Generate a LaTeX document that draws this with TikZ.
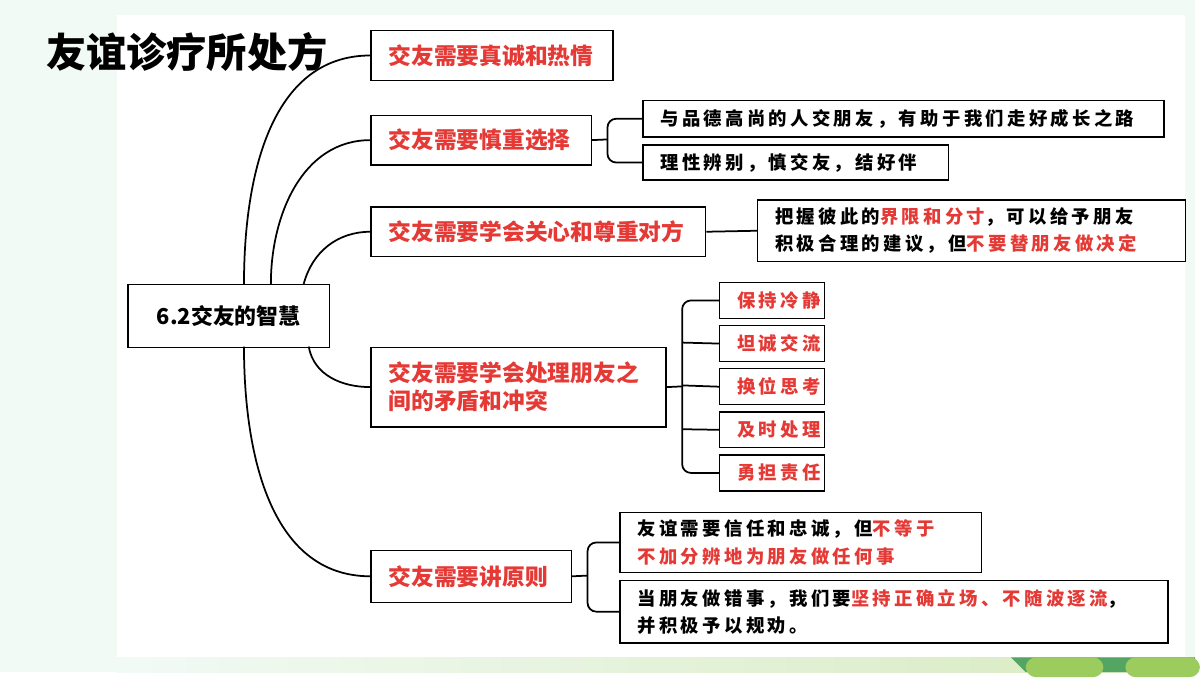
\documentclass[tikz,border=0pt]{standalone}
\usepackage{fontspec}
\setmainfont{Noto Sans CJK SC}
\usetikzlibrary{positioning, calc}
\definecolor{mapred}{HTML}{E53935}
\definecolor{mapmint}{HTML}{F2FAF5}
\definecolor{mapgreen}{HTML}{9CCB5E}
\definecolor{mapdark}{HTML}{55A562}
\newcommand{\hl}[1]{\textcolor{mapred}{#1}}

\begin{document}
\begin{tikzpicture}[x=0.02cm, y=-0.02cm,
    branch/.style={
        draw, line width=0.8pt, fill=white,
        anchor=north west, inner xsep=10pt,
        font=\fontsize{13}{16}\selectfont\bfseries,
        text=mapred, align=left
    },
    leaf/.style={
        draw, line width=0.8pt, fill=white,
        anchor=north west, inner xsep=10pt,
        font=\fontsize{10.5}{15.5}\selectfont\bfseries\addfontfeature{LetterSpace=18},
        align=left
    },
    wd/.style={text width=#1*0.02cm-20pt},
    ht/.style={minimum height=#1*0.02cm},
    link/.style={line width=1pt},
    bracket/.style={line width=1pt, rounded corners=5pt}
]

% Background
\fill[mapmint] (0,0) rectangle (1200,675);
\fill[white] (117,15) rectangle (1190,660);
\fill[left color=mapmint, right color=mapgreen!40] (117,660) rectangle (1200,675);
\fill[mapdark] (1015,660) -- (1030,675) -- (1200,675) -- (1200,660) -- cycle;
\fill[mapgreen, rounded corners=6pt] (1030,660) rectangle (1108,680);
\fill[mapgreen, rounded corners=6pt] (1130,660) rectangle (1205,680);
\useasboundingbox (0,0) rectangle (1200,675);

% Title
\node[font=\fontsize{23}{26}\selectfont\bfseries, anchor=west] (title) at (40,52) {友谊诊疗所处方};

% Root
\node[draw, line width=0.8pt, minimum width=202*0.02cm, minimum height=63*0.02cm,
      anchor=north west, font=\fontsize{12.5}{15}\selectfont\bfseries] (root) at (128,285) {6.2交友的智慧};

% Branches
\node[branch, wd=243, ht=50] (sincere) at (372,30) {交友需要真诚和热情};
\node[branch, wd=221, ht=50] (choose) at (372,115) {交友需要慎重选择};
\node[branch, wd=336, ht=50] (respect) at (372,207) {交友需要学会关心和尊重对方};
\node[branch, wd=296, ht=80] (conflict) at (372,348) {交友需要学会处理朋友之\\间的矛盾和冲突};
\node[branch, wd=201, ht=52] (principle) at (372,552) {交友需要讲原则};

% Leaves
\node[leaf, wd=523, ht=37] (noble) at (645,100) {与品德高尚的人交朋友，有助于我们走好成长之路};
\node[leaf, wd=307, ht=35] (rational) at (645,145) {理性辨别，慎交友，结好伴};
\node[leaf, wd=430, ht=62] (limit) at (760,200) {把握彼此的\hl{界限和分寸}，可以给予朋友\\积极合理的建议，但\hl{不要替朋友做决定}};
\foreach \lbl/\n [count=\i] in {保持冷静/calm, 坦诚交流/honest, 换位思考/empathy, 及时处理/prompt, 勇担责任/duty}
    \node[leaf, text=mapred, wd=105, ht=36] (\n) at ({722},{283+43.3*(\i-1)}) {\lbl};
\node[leaf, wd=363, ht=60] (trust) at (622,514) {友谊需要信任和忠诚，但\hl{不等于}\\\hl{不加分辨地为朋友做任何事}};
\node[leaf, wd=550, ht=63] (correct) at (622,582) {当朋友做错事，我们要\hl{坚持正确立场、不随波逐流}，\\并积极予以规劝。};

% Curves from root
\draw[link] (245,285) to[out=90, in=180] (sincere.west);
\draw[link] (272,285) to[out=90, in=180] (choose.west);
\draw[link] (305,285) to[out=75, in=180] (respect.west);
\draw[link] (310,348) to[out=-80, in=180] (conflict.west);
\draw[link] (245,348) to[out=-90, in=180] (principle.west);

% Brackets
\draw[link] (choose.east) -- (610,140);
\draw[bracket] (noble.west) -| (610,140) |- (rational.west);
\draw[link] (respect.east) -- (limit.west);
\draw[link] (conflict.east) -- (685,388);
\draw[bracket] (calm.west) -| (685,388) |- (duty.west);
\draw[link] (honest.west) -- (685,344);
\draw[link] (empathy.west) -- (685,387);
\draw[link] (prompt.west) -- (685,431);
\draw[link] (principle.east) -- (590,578);
\draw[bracket] (trust.west) -| (590,578) |- (correct.west);

\end{tikzpicture}
\end{document}
